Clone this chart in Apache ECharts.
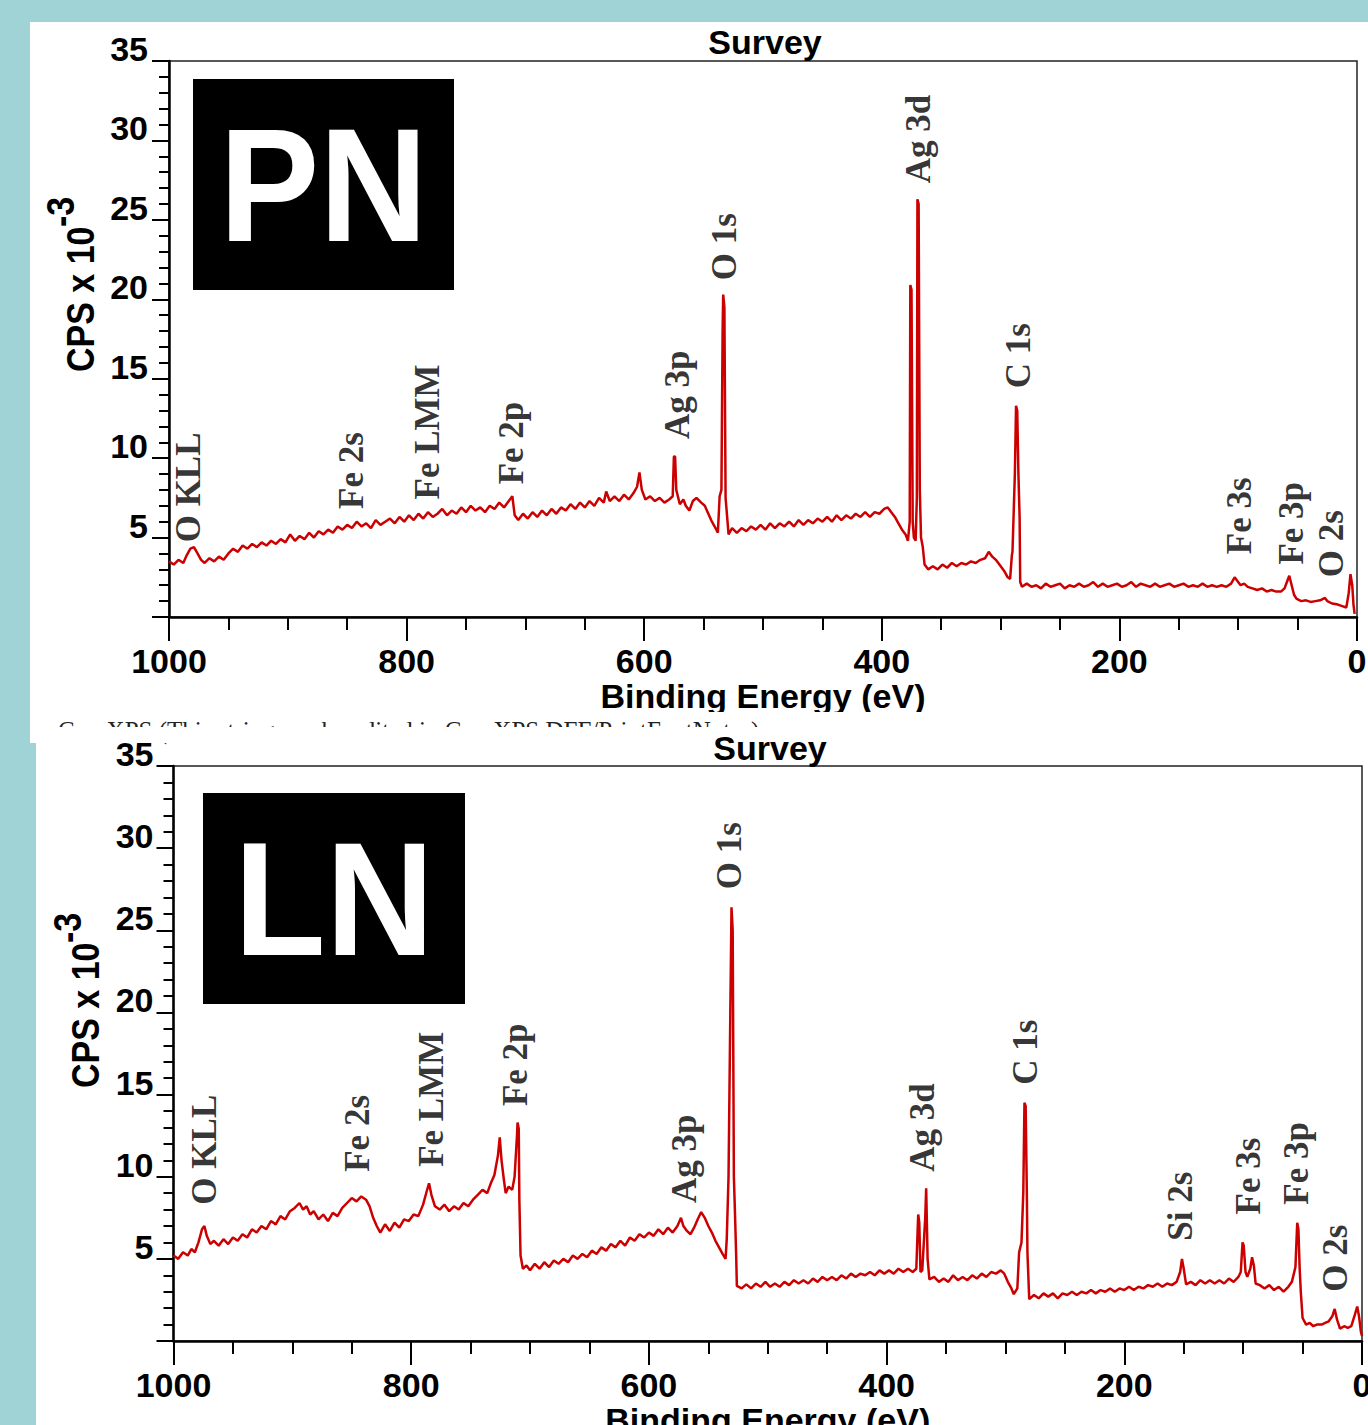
<!DOCTYPE html>
<html>
<head>
<meta charset="utf-8">
<title>XPS Survey - PN / LN</title>
<script src="https://cdn.jsdelivr.net/npm/echarts@6/dist/echarts.min.js"></script>
<style>
  html, body { margin: 0; padding: 0; background: #9fd3d6; }
  #chart { width: 1368px; height: 1425px; }
</style>
</head>
<body>
<div id="chart"></div>
<script>
// binding energy (eV) / CPS x 10^-3
var pnSpectrum = [
  [1000,3.5],[996,3.3],[992,3.6],[988,3.4],[985,3.9],[982,4.3],[979,4.4],[976,4.0],[973,3.6],[970,3.4],
  [966,3.7],[962,3.5],[958,3.8],[954,3.6],[950,4.0],[946,4.3],[942,4.1],[938,4.5],[934,4.3],[930,4.6],
  [926,4.4],[922,4.7],[918,4.5],[914,4.8],[910,4.6],[906,4.9],[902,4.7],[898,5.2],[894,4.8],[890,5.1],
  [886,4.9],[882,5.3],[878,5.0],[874,5.4],[870,5.2],[866,5.5],[862,5.3],[858,5.7],[854,5.5],[850,5.8],
  [846,5.6],[842,6.0],[838,5.7],[834,5.9],[830,5.6],[826,6.1],[822,5.8],[818,6.0],[814,6.2],[810,5.9],
  [806,6.3],[802,6.0],[798,6.4],[794,6.1],[790,6.5],[786,6.2],[782,6.6],[778,6.3],[774,6.5],[770,6.8],
  [766,6.4],[762,6.7],[758,6.5],[754,6.9],[750,6.6],[746,7.0],[742,6.7],[738,6.9],[734,6.6],[730,7.0],
  [726,6.8],[722,7.2],[718,6.9],[714,7.3],[711,7.6],[709,6.4],[706,6.1],[702,6.5],[698,6.2],[694,6.6],
  [690,6.3],[686,6.7],[682,6.4],[678,6.8],[674,6.5],[670,6.9],[666,6.7],[662,7.1],[658,6.8],[654,7.2],
  [650,6.9],[646,7.3],[642,7.0],[638,7.5],[634,7.2],[632,7.9],[629,7.3],[625,7.6],[621,7.3],[617,7.7],
  [613,7.4],[609,7.8],[606,8.2],[604,9.1],[602,8.0],[599,7.4],[595,7.6],[591,7.3],[587,7.5],[583,7.2],
  [579,7.4],[576,7.6],[575,10.1],[574,10.1],[573,8.0],[570,7.1],[567,7.4],[565,7.0],[562,6.7],[559,7.3],
  [556,7.5],[552,7.2],[549,7.0],[546,6.5],[543,6.0],[540,5.6],[538,5.3],[536.5,7.6],[535,8.0],[534,18.0],
  [533.5,20.3],[532.5,19.5],[531.5,7.5],[530.5,6.6],[529,5.2],[526,5.6],[522,5.3],[518,5.6],[514,5.4],[510,5.7],
  [506,5.5],[502,5.8],[498,5.5],[494,5.9],[490,5.6],[486,5.9],[482,5.7],[478,6.0],[474,5.7],[470,6.1],
  [466,5.8],[462,6.1],[458,5.9],[454,6.2],[450,6.0],[446,6.3],[442,6.0],[438,6.4],[434,6.1],[430,6.4],
  [426,6.2],[422,6.5],[418,6.3],[414,6.6],[410,6.3],[406,6.6],[402,6.5],[398,6.8],[395,6.9],[392,6.6],
  [389,6.3],[386,5.9],[383,5.5],[380,5.2],[378,4.8],[376.5,6.0],[376,20.9],[375,20.6],[374,6.0],[373,5.0],
  [371.5,4.8],[370.5,7.5],[370,26.3],[369,26.0],[368,8.0],[367,5.0],[365.5,4.4],[364,3.3],[361,3.0],[357,3.2],
  [353,3.0],[349,3.3],[345,3.1],[341,3.4],[337,3.2],[333,3.4],[329,3.3],[325,3.5],[321,3.4],[317,3.6],
  [313,3.7],[310,4.1],[307,3.8],[304,3.6],[301,3.3],[297,2.9],[294,2.5],[292,2.4],[290.5,3.9],[290,4.1],
  [288,9.0],[287,13.3],[286,13.0],[285,9.0],[284,6.3],[283.5,2.2],[282,1.9],[278,2.1],[274,1.9],[270,2.0],
  [266,1.8],[262,2.1],[258,1.9],[254,2.0],[250,2.1],[246,1.8],[242,2.0],[238,1.9],[234,2.1],[230,1.9],
  [226,2.0],[222,2.2],[218,1.9],[214,2.1],[210,1.9],[206,2.0],[202,2.1],[198,1.9],[194,2.0],[190,2.2],
  [186,1.9],[182,2.1],[178,2.0],[174,1.9],[170,2.1],[166,1.9],[162,2.0],[158,2.1],[154,1.9],[150,2.0],
  [146,2.1],[142,1.9],[138,2.0],[134,1.9],[130,2.1],[126,1.9],[122,2.0],[118,1.9],[114,2.0],[110,1.9],
  [106,2.1],[103,2.5],[101,2.3],[98,2.0],[95,2.1],[92,1.9],[88,1.8],[84,1.7],[80,1.8],[76,1.6],
  [72,1.7],[68,1.6],[64,1.6],[61,1.8],[59,2.2],[57,2.6],[55,2.0],[53,1.4],[51,1.15],[47,1.0],
  [43,1.05],[39,0.95],[35,1.0],[31,1.05],[27,1.2],[25,1.0],[21,0.85],[17,0.8],[13,0.7],[9,0.6],
  [7,1.5],[5.5,2.7],[4,2.0],[3,0.8],[2,0.2]
];

var lnSpectrum = [
  [1000,5.2],[996,5.0],[992,5.4],[988,5.2],[985,5.6],[982,5.4],[979,6.0],[976,6.8],[974,7.0],[972,6.4],
  [969,5.9],[966,6.1],[962,5.8],[958,6.2],[954,5.9],[950,6.3],[946,6.1],[942,6.5],[938,6.3],[934,6.8],
  [930,6.6],[926,7.0],[922,6.8],[918,7.3],[914,7.1],[910,7.6],[906,7.4],[902,7.9],[898,8.1],[894,8.4],
  [891,8.0],[888,8.2],[885,7.7],[882,7.9],[878,7.4],[874,7.7],[870,7.3],[866,7.8],[862,7.6],[858,8.1],
  [854,8.4],[850,8.7],[846,8.5],[842,8.8],[838,8.6],[835,8.2],[832,7.5],[829,7.0],[826,6.6],[822,7.1],
  [818,6.7],[814,7.2],[810,6.9],[806,7.4],[802,7.3],[798,7.7],[794,7.6],[790,8.3],[787,9.1],[785,9.6],
  [783,8.9],[780,8.2],[776,8.0],[772,8.3],[768,7.9],[764,8.2],[760,8.0],[756,8.4],[752,8.2],[748,8.6],
  [744,8.9],[740,9.2],[736,9.0],[733,9.6],[730,10.1],[727,11.3],[725.5,12.4],[724,11.0],[722,9.8],[720.5,9.0],
  [718,9.4],[715,9.2],[713,10.0],[711,12.5],[710.5,13.3],[709.5,12.9],[709,8.6],[708,5.2],[706,4.4],[703,4.6],
  [700,4.3],[696,4.7],[692,4.4],[688,4.8],[684,4.5],[680,4.9],[676,4.7],[672,5.0],[668,4.8],[664,5.2],
  [660,5.0],[656,5.3],[652,5.1],[648,5.5],[644,5.3],[640,5.7],[636,5.5],[632,5.9],[628,5.7],[624,6.1],
  [620,5.8],[616,6.3],[612,6.1],[608,6.5],[604,6.3],[600,6.6],[596,6.4],[592,6.8],[588,6.5],[584,6.9],
  [580,6.6],[576,7.0],[573,7.5],[571,7.0],[568,6.7],[565,6.5],[562,6.9],[559,7.4],[556,7.85],[553,7.5],
  [550,7.0],[547,6.6],[544,6.1],[541,5.7],[538,5.3],[535.5,5.0],[534.5,6.2],[533,10.0],[531.5,20.0],[530.5,26.4],
  [529.5,25.0],[528.5,10.0],[527.5,7.6],[526.5,5.0],[526,3.35],[522,3.2],[518,3.45],[514,3.2],[510,3.5],[506,3.3],
  [502,3.6],[498,3.3],[494,3.5],[490,3.3],[486,3.6],[482,3.4],[478,3.7],[474,3.5],[470,3.7],[466,3.5],
  [462,3.8],[458,3.6],[454,3.9],[450,3.7],[446,3.9],[442,3.7],[438,4.0],[434,3.8],[430,4.1],[426,3.9],
  [422,4.1],[418,4.0],[414,4.2],[410,4.0],[406,4.3],[402,4.1],[398,4.3],[394,4.1],[390,4.4],[386,4.2],
  [382,4.4],[378,4.2],[375,4.4],[374,6.5],[373.4,7.7],[372.5,7.2],[371.5,4.2],[370,4.3],[367.5,7.5],[366.7,9.3],
  [365.5,5.0],[364,3.75],[360,3.9],[356,3.6],[352,3.8],[348,3.6],[344,4.0],[340,3.7],[336,3.9],[332,3.7],
  [328,4.0],[324,3.8],[320,4.1],[316,3.9],[312,4.2],[308,4.1],[304,4.3],[301,4.1],[298,3.6],[295,3.2],
  [293,2.85],[290,3.2],[288.5,5.4],[286.5,6.0],[285,9.0],[284,14.5],[283,14.3],[282,9.0],[281.5,5.4],[280,2.55],
  [276,2.8],[272,2.6],[268,2.9],[264,2.7],[260,2.9],[256,2.6],[252,2.9],[248,2.8],[244,3.0],[240,2.8],
  [236,3.0],[232,2.9],[228,3.1],[224,2.9],[220,3.1],[216,3.0],[212,3.2],[208,3.0],[204,3.2],[200,3.1],
  [196,3.3],[192,3.1],[188,3.3],[184,3.2],[180,3.4],[176,3.3],[172,3.5],[168,3.3],[164,3.5],[160,3.4],
  [156,3.6],[153,4.2],[151.5,5.0],[150,4.4],[148,3.45],[144,3.6],[140,3.4],[136,3.7],[132,3.5],[128,3.7],
  [124,3.5],[120,3.7],[116,3.5],[112,3.8],[108,3.6],[104,3.9],[102,4.2],[100.5,6.0],[99.5,5.8],[98,4.2],
  [96.5,3.9],[94,4.4],[92.5,5.1],[91,4.6],[89.5,3.5],[86,3.4],[82,3.2],[78,3.4],[74,3.1],[70,3.3],
  [66,3.0],[62,3.3],[59,3.6],[56,4.5],[54.5,7.2],[53.5,6.8],[52.5,4.5],[51.5,3.0],[50,1.4],[47,1.0],
  [44,1.1],[41,0.9],[38,1.0],[34,1.0],[31,1.1],[28,1.2],[25,1.5],[23,1.95],[21,1.3],[18.5,0.75],
  [15,0.9],[12,0.8],[9,0.9],[6,1.6],[4,2.1],[2.5,1.5],[1,0.6],[0,0.3]
];

// peak assignments and where each label starts (eV, CPS x 10^-3)
var pnPeakNames = ['O KLL', 'Fe 2s', 'Fe LMM', 'Fe 2p', 'Ag 3p', 'O 1s', 'Ag 3d', 'C 1s', 'Fe 3s', 'Fe 3p', 'O 2s'];
var pnPeakAt = [[984,4.7],[846.7,6.8],[782.7,7.4],[712,8.35],[572,11.2],[532.6,21.2],[369,27.3],[285,14.4],[99,3.95],[55,3.3],[21.5,2.5]];
var lnPeakNames = ['O KLL', 'Fe 2s', 'Fe LMM', 'Fe 2p', 'Ag 3p', 'O 1s', 'Ag 3d', 'C 1s', 'Si 2s', 'Fe 3s', 'Fe 3p', 'O 2s'];
var lnPeakAt = [[973.5,8.3],[845.3,10.3],[783,10.6],[712,14.3],[570,8.4],[531.8,27.5],[370,10.3],[283.2,15.6],[152.5,6.1],[95.2,7.7],[55.5,8.3],[21.9,3.0]];

var beRange = [0, 1000];   // x axis, inverted, ticks every 200
var cpsRange = [0, 35];    // y axis, ticks every 5

var SANS = "'Liberation Sans', Arial, sans-serif";
var SERIF = "'Liberation Serif', 'Times New Roman', serif";
var RED = '#cc0000';

var chart = echarts.init(document.getElementById('chart'), null, { renderer: 'svg' });

function xAxisFor(gridIndex, nameGap) {
  return {
    type: 'value',
    gridIndex: gridIndex,
    min: beRange[0],
    max: beRange[1],
    interval: 200,
    inverse: true,
    name: 'Binding Energy (eV)',
    nameLocation: 'middle',
    nameGap: nameGap,
    nameTextStyle: { fontFamily: SANS, fontWeight: 'bold', fontSize: 34, color: '#000' },
    axisLine: { show: true, onZero: false, lineStyle: { color: '#000', width: 2.5 } },
    axisTick: { show: true, inside: false, length: 24, lineStyle: { color: '#000', width: 2 } },
    minorTick: { show: true, splitNumber: 4, length: 13, lineStyle: { color: '#000', width: 2 } },
    axisLabel: {
      margin: 27, fontFamily: SANS, fontWeight: 'bold', fontSize: 34, color: '#000',
      formatter: function (v) { return String(v); }
    },
    splitLine: { show: false },
    minorSplitLine: { show: false }
  };
}

function yAxisFor(gridIndex, margin) {
  return {
    type: 'value',
    gridIndex: gridIndex,
    min: cpsRange[0],
    max: cpsRange[1],
    interval: 5,
    axisLine: { show: true, onZero: false, lineStyle: { color: '#000', width: 2.5 } },
    axisTick: { show: true, inside: false, length: 17, lineStyle: { color: '#000', width: 2 } },
    minorTick: { show: true, splitNumber: 5, length: 10, lineStyle: { color: '#000', width: 2 } },
    axisLabel: {
      margin: margin,
      fontFamily: SANS, fontWeight: 'bold', fontSize: 34, color: '#000',
      lineHeight: 24, verticalAlign: 'bottom',
      formatter: function (v) { return v === 0 ? '' : String(v); }
    },
    splitLine: { show: false },
    minorSplitLine: { show: false }
  };
}

function spectrumSeries(idx, data) {
  return {
    type: 'line',
    xAxisIndex: idx,
    yAxisIndex: idx,
    data: data,
    symbol: 'none',
    showSymbol: false,
    silent: true,
    z: 3,
    lineStyle: { color: RED, width: 2.5 }
  };
}

function peakLabelSeries(idx, names, at) {
  return {
    type: 'scatter',
    xAxisIndex: idx,
    yAxisIndex: idx,
    data: names.map(function (n, i) { return { name: n, value: at[i] }; }),
    symbolSize: 1,
    itemStyle: { color: 'rgba(0,0,0,0)' },
    silent: true,
    z: 4,
    label: {
      show: true,
      formatter: '{b}',
      position: 'inside',
      rotate: 90,
      align: 'left',
      verticalAlign: 'middle',
      fontFamily: SERIF,
      fontWeight: 'bold',
      fontSize: 35,
      color: '#000'
    }
  };
}

function sampleBox(x, y, w, h, text) {
  return [
    { type: 'rect', z: 5, shape: { x: x, y: y, width: w, height: h }, style: { fill: '#000' } },
    {
      type: 'text', z: 6, x: x + w / 2, y: y + h / 2, scaleY: 1.08,
      style: { text: text, fontFamily: SANS, fontWeight: 'bold', fontSize: 150, fill: '#fff', align: 'center', verticalAlign: 'middle' }
    }
  ];
}

function yName(x, y, supX, supY) {
  return [
    {
      type: 'text', z: 6, x: x, y: y, rotation: Math.PI / 2, scaleY: 1.15,
      style: { text: 'CPS x 10', fontFamily: SANS, fontWeight: 'bold', fontSize: 34, fill: '#000', align: 'left', verticalAlign: 'middle' }
    },
    {
      type: 'text', z: 6, x: supX, y: supY, rotation: Math.PI / 2, scaleY: 1.15,
      style: { text: '-3', fontFamily: SANS, fontWeight: 'bold', fontSize: 34, fill: '#000', align: 'left', verticalAlign: 'middle' }
    }
  ];
}

function surveyTitle(x, y) {
  return {
    type: 'text', z: 110, x: x, y: y,
    style: { text: 'Survey', fontFamily: SANS, fontWeight: 'bold', fontSize: 34, lineHeight: 26, fill: '#000', align: 'center', verticalAlign: 'middle' }
  };
}

var graphics = [
  // white sheets on the teal slide
  { type: 'rect', z: -10, shape: { x: 30, y: 22, width: 1338, height: 721 }, style: { fill: '#fff' } },
  { type: 'rect', z: -10, shape: { x: 36, y: 743, width: 1332, height: 682 }, style: { fill: '#fff' } },
  surveyTitle(765, 42),
  surveyTitle(770, 748),
  // the first sheet is cropped just under its axis title
  { type: 'rect', z: 100, shape: { x: 30, y: 712, width: 1338, height: 5 }, style: { fill: '#fff' } },
  {
    type: 'text', z: 101, x: 58, y: 730,
    style: { text: 'CasaXPS (This string can be edited in CasaXPS DFF/PrintFontNotes)', fontFamily: SERIF, fontSize: 25, lineHeight: 8, fill: '#222', align: 'left', verticalAlign: 'middle' }
  },
  { type: 'rect', z: 102, shape: { x: 40, y: 727, width: 1328, height: 16 }, style: { fill: '#fff' } },
  { type: 'rect', z: 102, shape: { x: 200, y: 742, width: 1168, height: 5 }, style: { fill: '#fff' } }
]
  .concat(sampleBox(193, 79, 261, 211, 'PN'))
  .concat(sampleBox(203, 793, 262, 211, 'LN'))
  .concat(yName(81, 372, 61, 227))
  .concat(yName(86, 1088, 68, 943));

var option = {
  backgroundColor: '#9fd3d6',
  animation: false,
  grid: [
    { left: 169, top: 61, width: 1188, height: 556, show: true, borderColor: '#222', borderWidth: 1.5, backgroundColor: 'rgba(0,0,0,0)', outerBoundsMode: 'none' },
    { left: 173.5, top: 766, width: 1188.5, height: 575, show: true, borderColor: '#222', borderWidth: 1.5, backgroundColor: 'rgba(0,0,0,0)', outerBoundsMode: 'none' }
  ],
  xAxis: [xAxisFor(0, 60), xAxisFor(1, 61)],
  yAxis: [yAxisFor(0, 21), yAxisFor(1, 20)],
  series: [
    spectrumSeries(0, pnSpectrum),
    spectrumSeries(1, lnSpectrum),
    peakLabelSeries(0, pnPeakNames, pnPeakAt),
    peakLabelSeries(1, lnPeakNames, lnPeakAt)
  ],
  graphic: graphics
};

chart.setOption(option);
window.addEventListener('resize', function () { chart.resize(); });
</script>
</body>
</html>
